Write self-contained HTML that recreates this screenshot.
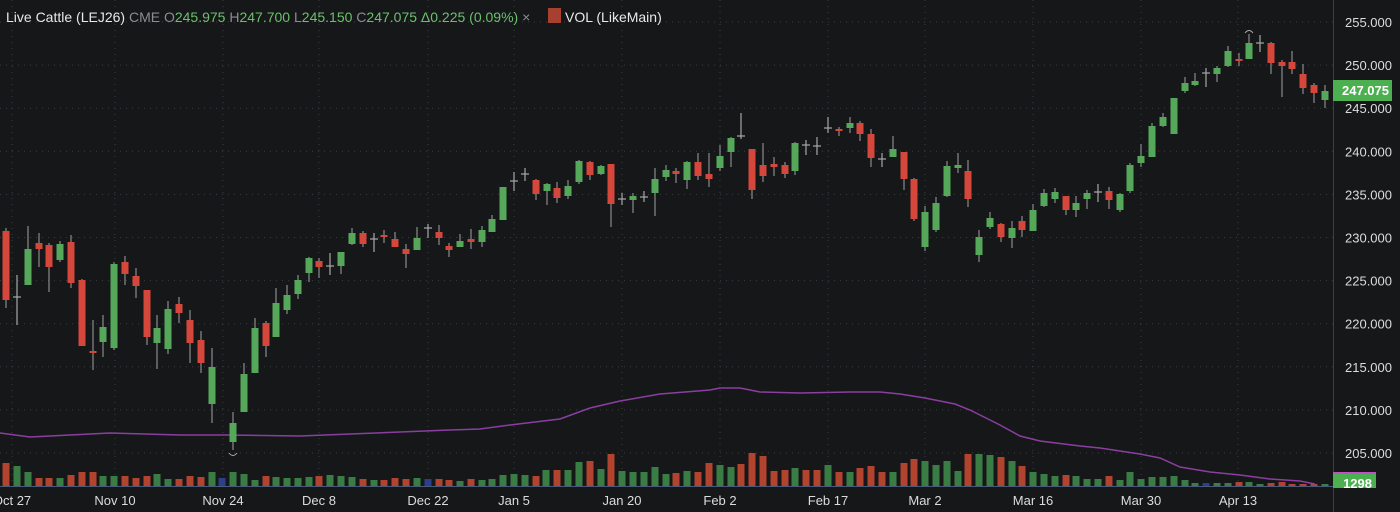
<!DOCTYPE html>
<html><head><meta charset="utf-8"><style>
html,body{margin:0;padding:0;background:#151719;}
svg{display:block}
text{font-family:"Liberation Sans",sans-serif;}
</style></head><body>
<svg id="s" width="1400" height="512" viewBox="0 0 1400 512" xmlns="http://www.w3.org/2000/svg">
<rect width="1400" height="512" fill="#151719"/>
<g id="grid"></g><g id="vol"></g><g id="ma"></g><g id="cd"></g><g id="ax"></g>
<text x="6" y="22" font-size="14" fill="#e8e8e8">Live Cattle (LEJ26) <tspan fill="#8a8d91">CME</tspan> <tspan fill="#8a8d91">O</tspan><tspan fill="#6cc06c">245.975</tspan> <tspan fill="#8a8d91">H</tspan><tspan fill="#6cc06c">247.700</tspan> <tspan fill="#8a8d91">L</tspan><tspan fill="#6cc06c">245.150</tspan> <tspan fill="#8a8d91">C</tspan><tspan fill="#6cc06c">247.075</tspan> <tspan fill="#6cc06c">Δ0.225 (0.09%)</tspan> <tspan fill="#8a8d91">×</tspan></text>
<rect x="548" y="8" width="13" height="15" fill="#a8402f"/>
<text x="565" y="22" font-size="14" fill="#e8e8e8">VOL (LikeMain)</text>
</svg>
<script>
const NS="http://www.w3.org/2000/svg";
function el(p,t,a,txt){const e=document.createElementNS(NS,t);for(const k in a)e.setAttribute(k,a[k]);if(txt!==undefined)e.textContent=txt;document.getElementById(p).appendChild(e);return e;}
// grid
for(let i=0;i<=10;i++){const y=22+i*43.1;el('grid','line',{x1:0,x2:1333,y1:y,y2:y,stroke:'#3b3e43','stroke-width':1,'stroke-dasharray':'1 5'});}
const dates=[[12,'Oct 27'],[115,'Nov 10'],[223,'Nov 24'],[319,'Dec 8'],[428,'Dec 22'],[514,'Jan 5'],[622,'Jan 20'],[720,'Feb 2'],[828,'Feb 17'],[925,'Mar 2'],[1033,'Mar 16'],[1141,'Mar 30'],[1238,'Apr 13']];
dates.forEach(d=>{el('grid','line',{x1:d[0],x2:d[0],y1:0,y2:486,stroke:'#3b3e43','stroke-width':1,'stroke-dasharray':'1 5'});el('ax','text',{x:d[0],y:505,'font-size':13,fill:'#dcdcdc','text-anchor':'middle'},d[1]);});
el('ax','line',{x1:0,x2:1333,y1:486.5,y2:486.5,stroke:'#4a5a78','stroke-width':1});
el('ax','line',{x1:1333.5,x2:1333.5,y1:0,y2:512,stroke:'#3c3f44','stroke-width':1});
for(let i=0;i<=10;i++){const y=22+i*43.1;el('ax','text',{x:1392,y:y+5,'font-size':13,fill:'#dcdcdc','text-anchor':'end'},(255-5*i).toFixed(3));}
// candles: x,color,bt,bb,wt,wb
const C=[
[6,'r',231,300,228,308],[17,'d',297,297,275,325],[28,'g',249,285,226,285],[39,'r',243,249,233,267],[49,'r',245,267,243,292],[60,'g',244,260,241,262],[71,'r',242,283,235,288],[82,'r',280,346,279,346],[93,'r',351,353,320,370],[103,'g',327,342,315,357],[114,'g',264,348,262,350],[125,'r',262,274,256,285],[136,'r',276,286,268,298],[147,'r',290,337,290,345],[157,'g',328,343,315,369],[168,'g',309,349,301,354],[179,'r',304,313,297,323],[190,'r',320,343,310,363],[201,'r',340,363,331,373],[212,'g',367,404,348,423],[233,'g',423,442,412,450],[244,'g',374,412,363,412],[255,'g',328,373,318,373],[266,'r',323,346,321,357],[276,'g',303,337,288,337],
[287,'g',295,310,285,314],[298,'g',280,294,275,299],[309,'g',258,273,257,282],[319,'r',261,267,258,278],[330,'d',266,266,253,275],[341,'g',252,266,252,274],[352,'g',233,244,228,245],[363,'r',233,244,231,247],[374,'d',239,239,233,252],[384,'r',235,236,230,243],[395,'r',239,247,232,247],[406,'r',249,254,244,268],[417,'g',238,250,227,250],[428,'d',228,228,224,238],[439,'r',232,238,225,245],[449,'r',246,250,243,257],[460,'g',241,247,234,247],[471,'r',239,242,229,249],[482,'g',230,242,226,247],[492,'g',219,232,215,232],[503,'g',187,220,187,220],[514,'d',181,181,172,191],[525,'d',174,174,168,181],[536,'r',180,194,179,200],[547,'g',184,191,183,205],
[557,'r',188,198,182,203],[568,'g',186,196,180,199],[579,'g',161,182,160,184],[590,'r',162,175,161,180],[601,'g',166,174,165,175],[611,'r',164,204,164,227],[622,'d',199,199,193,205],[633,'g',196,200,193,213],[644,'d',197,197,191,202],[655,'g',179,193,168,216],[666,'g',170,177,165,181],[676,'r',171,174,168,183],[687,'g',162,180,161,189],[698,'r',162,176,153,180],[709,'r',174,179,153,187],[720,'g',156,168,145,171],[731,'g',138,152,137,167],[741,'d',136,136,113,139],[752,'r',149,190,149,199],[763,'r',165,176,143,182],[774,'r',164,167,157,176],[785,'r',165,174,162,178],[795,'g',143,171,142,175],[806,'d',145,145,140,155],[817,'d',146,146,137,155],
[828,'d',128,128,117,133],[839,'r',129,130,127,136],[850,'g',123,128,117,133],[860,'r',123,134,121,141],[871,'r',134,158,129,167],[882,'d',159,159,153,167],[893,'g',149,157,136,157],[904,'r',152,179,152,190],[914,'r',179,219,178,221],[925,'g',212,247,206,251],[936,'g',203,230,197,232],[947,'g',166,196,161,197],[958,'g',165,168,153,173],[968,'r',171,199,160,207],[979,'g',237,255,230,262],[990,'g',218,227,212,229],[1001,'r',224,237,223,242],[1012,'g',228,238,221,248],[1022,'r',221,230,216,237],[1033,'g',210,231,204,231],[1044,'g',193,206,189,207],[1055,'g',192,199,188,203],[1066,'r',196,210,196,215],[1076,'g',203,210,196,217],[1087,'g',193,199,190,209],
[1098,'d',192,192,184,202],[1109,'r',191,200,187,209],[1120,'g',194,210,193,212],[1130,'g',165,191,163,193],[1141,'g',156,163,144,167],[1152,'g',126,157,123,157],[1163,'g',117,126,113,127],[1174,'g',98,134,98,134],[1185,'g',83,91,77,93],[1195,'g',81,85,73,86],[1206,'d',73,73,68,87],[1217,'g',68,74,66,82],[1228,'g',51,66,46,67],[1239,'r',59,60,53,66],[1249,'g',43,59,34,59],[1260,'d',43,43,35,52],[1271,'r',43,63,42,74],[1282,'r',62,66,60,97],[1292,'r',62,69,51,74],[1303,'r',74,88,64,94],[1314,'r',85,93,83,103],[1325,'g',91,100,85,108]];
const col={g:'#55a85a',r:'#d5463b',d:'#b0b0b0'};
C.forEach(c=>{const [x,t,bt,bb,wt,wb]=c;const f=col[t];
el('cd','line',{x1:x,x2:x,y1:wt,y2:wb,stroke:t=='d'?'#a8a8a8':'#8c8c8c','stroke-width':1.2});
if(t=='d')el('cd','line',{x1:x-4,x2:x+4,y1:bt,y2:bt,stroke:'#a8a8a8','stroke-width':1.2});
else el('cd','rect',{x:x-3.5,y:bt,width:7,height:Math.max(2,bb-bt),fill:f});});
el('cd','path',{d:'M229 453 q4 5 8 0',stroke:'#aaa',fill:'none','stroke-width':1});
el('cd','path',{d:'M1245 33 q4 -5 8 0',stroke:'#aaa',fill:'none','stroke-width':1});
// volume
const V=[[6,'r',23],[17,'g',20],[28,'g',14],[39,'r',8],[49,'r',8],[60,'g',8],[71,'r',11],[82,'r',14],[93,'r',14],[103,'g',10],[114,'g',10],[125,'r',10],[136,'r',8],[147,'r',10],[157,'g',12],[168,'g',7],[179,'r',7],[190,'r',10],[201,'r',9],[212,'g',14],[222,'b',8],[233,'g',14],[244,'g',12],[255,'g',6],[266,'r',10],[276,'g',9],[287,'g',8],[298,'g',8],[309,'g',9],[319,'r',10],[330,'g',11],[341,'g',10],[352,'g',9],[363,'r',7],[374,'g',6],[384,'r',6],[395,'r',8],[406,'r',7],[417,'g',8],[428,'b',7],[439,'r',7],[449,'r',6],
[460,'g',5],[471,'r',7],[482,'g',6],[492,'g',7],[503,'g',11],[514,'g',12],[525,'g',11],[536,'r',10],[546,'g',16],[557,'r',16],[568,'g',16],[579,'g',24],[590,'r',25],[601,'g',17],[611,'r',32],[622,'g',15],[633,'g',14],[644,'g',14],[655,'g',19],[666,'g',12],[676,'r',13],[687,'g',15],[698,'r',14],[709,'r',23],[720,'g',21],[731,'g',19],[741,'r',22],[752,'r',33],[763,'r',30],[774,'r',15],[785,'r',16],[795,'g',18],[806,'r',16],[817,'r',16],[828,'g',21],[839,'r',14],[850,'g',14],[860,'r',18],[871,'r',20],[882,'r',14],[893,'g',14],
[904,'r',23],[914,'r',27],[925,'g',25],[936,'g',21],[947,'g',25],[958,'g',15],[968,'r',32],[979,'g',32],[990,'g',31],[1001,'r',29],[1012,'g',25],[1022,'r',20],[1033,'g',14],[1044,'g',12],[1055,'g',10],[1066,'r',11],[1076,'g',10],[1087,'g',7],[1098,'g',7],[1109,'r',10],[1120,'g',6],[1130,'g',14],[1141,'g',7],[1152,'g',9],[1163,'g',9],[1174,'g',10],[1185,'g',6],[1195,'g',3],[1206,'b',3],[1217,'g',3],[1228,'g',3],[1239,'r',4],[1249,'g',4],[1260,'g',2],[1271,'r',3],[1282,'r',4],[1292,'r',2],[1303,'r',2],[1314,'r',2],[1325,'g',2]];
const vc={g:'#3a7d44',r:'#b1432f',b:'#2c3f8a'};
V.forEach(v=>el('vol','rect',{x:v[0]-3.5,y:486-v[2],width:7,height:v[2],fill:vc[v[1]]}));
const M=[[0,433],[30,437],[110,433],[180,435],[225,435],[300,436],[400,432],[450,430],[480,429],[510,425],[560,419],[590,408],[620,401],[660,394],[710,390],[720,388],[740,388],[760,392],[800,393],[850,392],[880,392],[900,394],[925,398],[955,404],[970,410],[1000,425],[1020,436],[1040,441],[1080,446],[1100,448],[1140,454],[1160,458],[1180,467],[1210,472],[1240,475],[1270,479],[1300,481],[1315,484]];
el('ma','polyline',{points:M.map(p=>p.join(',')).join(' '),fill:'none',stroke:'#8a3fa0','stroke-width':1.5});
// price tags
el('ax','rect',{x:1333,y:80,width:59,height:21,fill:'#4caf50'});
el('ax','text',{x:1389,y:95,'font-size':13,'font-weight':'bold',fill:'#ffffff','text-anchor':'end'},'247.075');
el('ax','rect',{x:1333,y:472,width:43,height:16,fill:'#4caf50'});
el('ax','rect',{x:1333,y:472,width:43,height:2,fill:'#c04fc8'});
el('ax','text',{x:1372,y:488,'font-size':13,'font-weight':'bold',fill:'#ffffff','text-anchor':'end'},'1298');
</script>
</body></html>
